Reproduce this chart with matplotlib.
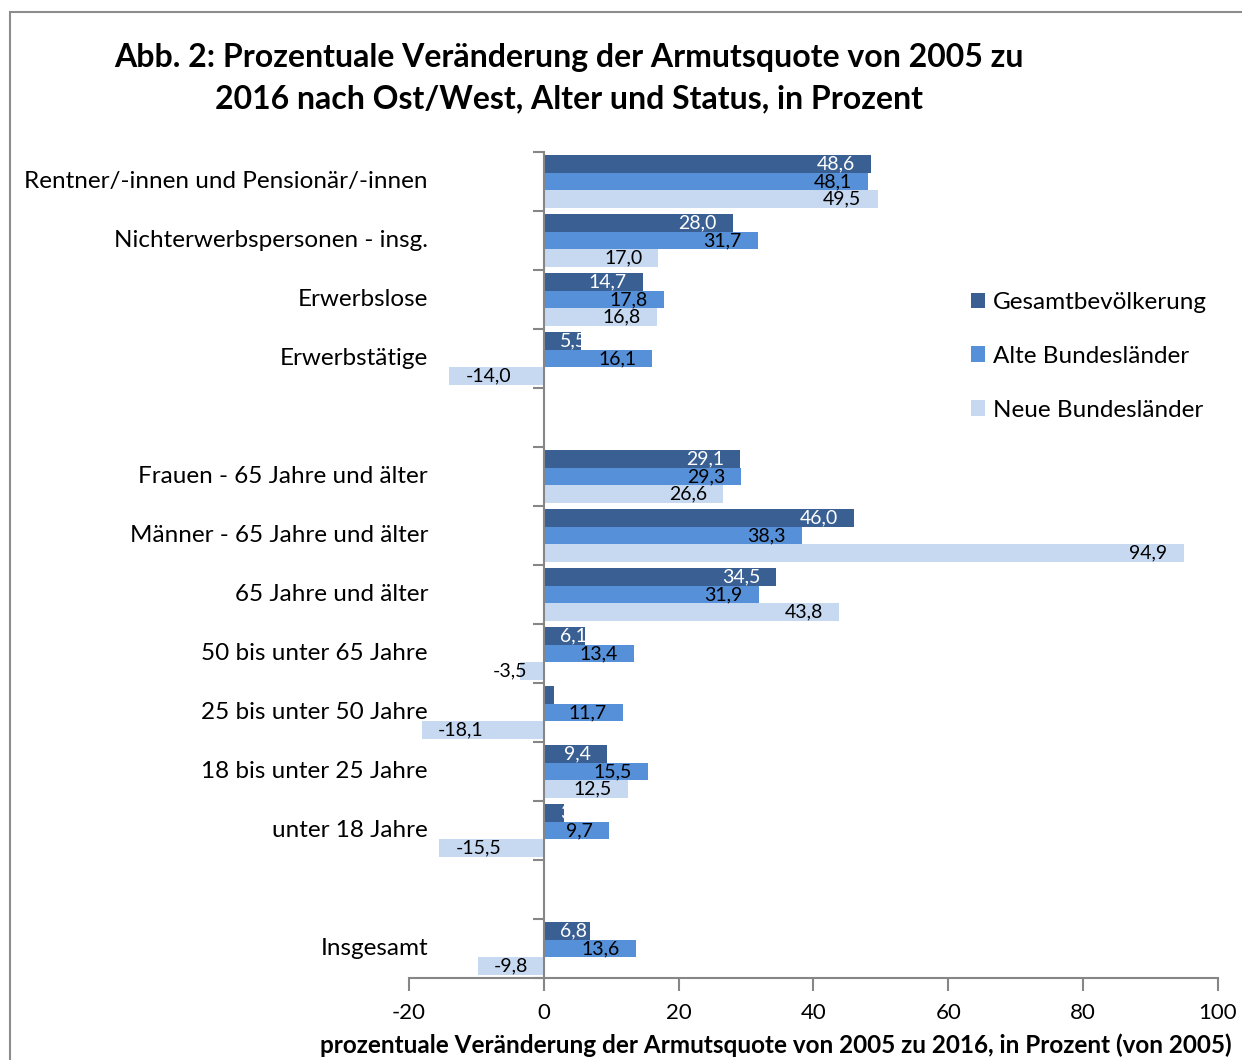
import numpy as np
import matplotlib.pyplot as plt
import matplotlib.transforms as mtransforms
from matplotlib.patches import Rectangle

plt.rcParams['font.family'] = ['Lato', 'DejaVu Sans']
plt.rcParams['axes.unicode_minus'] = False

# -------------------------
# Data (bottom to top, '' = empty slot)
# -------------------------
categories = ['Insgesamt', '', 'unter 18 Jahre', '18 bis unter 25 Jahre',
              '25 bis unter 50 Jahre', '50 bis unter 65 Jahre', '65 Jahre und älter',
              'Männer - 65 Jahre und älter', 'Frauen - 65 Jahre und älter', '',
              'Erwerbstätige', 'Erwerbslose', 'Nichterwerbspersonen - insg.',
              'Rentner/-innen und Pensionär/-innen']
gesamt = [6.8, np.nan, 3.0, 9.4, 1.5, 6.1, 34.5, 46.0, 29.1, np.nan, 5.5, 14.7, 28.0, 48.6]
alte = [13.6, np.nan, 9.7, 15.5, 11.7, 13.4, 31.9, 38.3, 29.3, np.nan, 16.1, 17.8, 31.7, 48.1]
neue = [-9.8, np.nan, -15.5, 12.5, -18.1, -3.5, 43.8, 94.9, 26.6, np.nan, -14.0, 16.8, 17.0, 49.5]

series_names = ['Gesamtbevölkerung', 'Alte Bundesländer', 'Neue Bundesländer']
colors = ['#3A6093', '#5690D8', '#C6D9F1']
label_colors = ['white', 'black', 'black']

# -------------------------
# Figure
# -------------------------
W, H = 1242, 1060
fig = plt.figure(figsize=(W / 100, H / 100), dpi=100)
ax = fig.add_axes([409 / W, 1 - 978 / H, (1218 - 409) / W, (978 - 152) / H])

# border of the chart area (cut off at right/bottom like the reference)
fig.patches.append(Rectangle((10 / W, -0.1), 1.2, 1 - 12 / H + 0.1,
                             transform=fig.transFigure, fill=False,
                             edgecolor='#8C8C8C', linewidth=1.5))

y = np.arange(len(categories))
h = 0.30
offsets = [h, 0, -h]

bars = []
for vals, off, c in zip([gesamt, alte, neue], offsets, colors):
    bars.append(ax.barh(y + off, vals, height=h, color=c, edgecolor='none'))

ax.set_xlim(-20, 100)
ax.set_ylim(-0.5, len(categories) - 0.5)

# axes styling
for s in ['top', 'right']:
    ax.spines[s].set_visible(False)
ax.spines['left'].set_position(('data', 0))
ax.spines['left'].set_color('#868686')
ax.spines['bottom'].set_color('#868686')
ax.spines['left'].set_linewidth(1.5)
ax.spines['bottom'].set_linewidth(1.5)
ax.set_yticks(np.arange(-0.5, len(categories), 1.0))
ax.set_yticklabels([])
ax.tick_params(axis='y', direction='out', length=8, width=1.5, color='#868686')
ax.set_xticks(np.arange(-20, 101, 20))
ax.tick_params(axis='x', direction='out', length=9, width=1.5, color='#868686',
               labelsize=16, pad=9)

# category labels
trans = mtransforms.blended_transform_factory(fig.transFigure, ax.transData)
for yi, cat in zip(y, categories):
    ax.text(428 / W, yi, cat, transform=trans, ha='right', va='center', fontsize=17.5)

# data labels (Excel "inside end")
fig.canvas.draw()
renderer = fig.canvas.get_renderer()
px = 6.74  # pixels per data unit
pad = 2.4
for vals, off, lc in zip([gesamt, alte, neue], offsets, label_colors):
    for yi, v in zip(y, vals):
        if np.isnan(v):
            continue
        lab = f'{v:.1f}'.replace('.', ',')
        t = ax.text(0, yi + off, lab, ha='left', va='center', fontsize=14, color=lc,
                    clip_on=True)
        w = t.get_window_extent(renderer).width / px
        if v >= 0:
            x_left = max(v - pad - w, pad)
        else:
            x_left = min(v + pad, -pad - w)
        t.set_x(x_left)

ax.legend([b for b in bars], series_names, loc='upper left',
          bbox_to_anchor=(949 / W, 1 - 270 / H), bbox_transform=fig.transFigure,
          frameon=False, fontsize=17.5, handlelength=0.6, handleheight=0.6,
          handletextpad=0.3, labelspacing=1.35)

fig.text(569 / W, 1 - 57 / H, 'Abb. 2: Prozentuale Veränderung der Armutsquote von 2005 zu',
         ha='center', va='center', fontsize=23, fontweight='bold')
fig.text(569 / W, 1 - 99 / H, '2016 nach Ost/West, Alter und Status, in Prozent',
         ha='center', va='center', fontsize=23, fontweight='bold')
fig.text(776 / W, 1 - 1045 / H,
         'prozentuale Veränderung der Armutsquote von 2005 zu 2016, in Prozent (von 2005)',
         ha='center', va='center', fontsize=17.5, fontweight='bold')

fig.savefig('out.png', dpi=100)
